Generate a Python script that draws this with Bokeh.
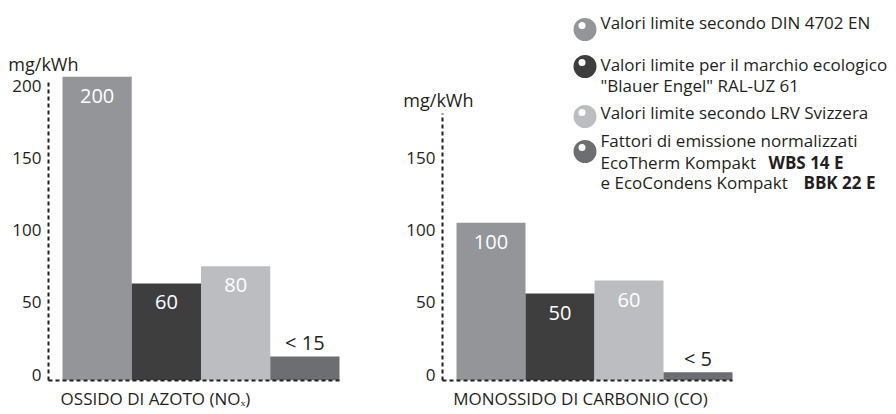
from bokeh.plotting import figure
from bokeh.layouts import row
from bokeh.models import FixedTicker, LinearAxis, Range1d
from bokeh.core.properties import value
from bokeh.embed import file_html
from bokeh.resources import INLINE

# ---------------- data ----------------
series_names = [
    "Valori limite secondo DIN 4702 EN",
    "Valori limite per il marchio ecologico \"Blauer Engel\" RAL-UZ 61",
    "Valori limite secondo LRV Svizzera",
    "Fattori di emissione normalizzati EcoTherm Kompakt WBS 14 E e EcoCondens Kompakt BBK 22 E",
]
series_colors = ["#939598", "#3e3e3f", "#bcbdc0", "#6d6e71"]

nox_heights = [206, 63, 75, 12.5]
nox_labels = ["200", "60", "80", "< 15"]
nox_ticks = [0, 50, 100, 150, 200]
nox_axis_top = 203.5
nox_title = "OSSIDO DI AZOTO (NOₓ)"

co_heights = [105, 56, 65, 1.5]
co_labels = ["100", "50", "60", "< 5"]
co_ticks = [0, 50, 100, 150]
co_axis_top = 180.6
co_title = "MONOSSIDO DI CARBONIO (CO)"

unit_label = "mg/kWh"

legend_lines = [
    ("Valori limite secondo DIN 4702 EN", ""),
    ("Valori limite per il marchio ecologico", ""),
    ("\"Blauer Engel\" RAL-UZ 61", ""),
    ("Valori limite secondo LRV Svizzera", ""),
    ("Fattori di emissione normalizzati", ""),
    ("EcoTherm Kompakt ", "WBS 14 E"),
    ("e EcoCondens Kompakt ", "BBK 22 E"),
]

# ---------------- style / layout (page pixels) ----------------
FONT = "Open Sans"
TXT = "#231f20"
H = 414
PXY = 1.445          # pixels per y unit
ZERO_PAGE = 374.0    # page y of value 0
FRAME_BOTTOM = 380.0
Y0 = (ZERO_PAGE - FRAME_BOTTOM) / PXY
Y1 = ZERO_PAGE / PXY
NOTICK = dict(major_tick_line_color=None, minor_tick_line_color=None,
              major_tick_out=0, major_tick_in=0, minor_tick_out=0, minor_tick_in=0)


def py(page_y):
    return (ZERO_PAGE - page_y) / PXY


def make_chart(page_x0, width, border_left, bar_left_page, bar_px, heights, labels,
               ticks, axis_top, title, title_center, unit_right, unit_mid):
    def px(page_x):
        return (page_x - bar_left_page) / bar_px

    frame_left = page_x0 + border_left
    x0 = px(frame_left)
    x1 = px(page_x0 + width)
    p = figure(width=width, height=H, x_range=Range1d(x0, x1), y_range=Range1d(Y0, Y1),
               output_backend="svg", toolbar_location=None, x_axis_type=None, y_axis_type=None,
               min_border_left=border_left, min_border_right=0, min_border_top=0,
               min_border_bottom=int(H - FRAME_BOTTOM), outline_line_color=None)
    # value axis (dashed line + numbers)
    yaxis = LinearAxis(ticker=FixedTicker(ticks=ticks), bounds=(Y0, axis_top),
                       axis_line_dash="4 3", axis_line_width=2, axis_line_color=TXT,
                       major_label_text_font=FONT, major_label_text_font_size="17px",
                       major_label_text_color=TXT, major_label_standoff=7, **NOTICK)
    p.add_layout(yaxis, "left")
    # unit caption, carried by a second (line-less) left axis
    ut = round(py(unit_mid), 1)
    inner_w = 37  # approx. width of the value axis panel
    uaxis = LinearAxis(ticker=FixedTicker(ticks=[ut]), major_label_overrides={ut: unit_label},
                       axis_line_color=None, major_label_text_font=FONT,
                       major_label_text_font_size="18px", major_label_text_color=TXT,
                       major_label_standoff=int((frame_left - inner_w) - unit_right), **NOTICK)
    p.add_layout(uaxis, "left")
    # baseline axis with the category caption as its only label
    n = len(heights)
    ct = round(px(title_center), 3)
    xaxis = LinearAxis(ticker=FixedTicker(ticks=[ct]), major_label_overrides={ct: title},
                       bounds=(x0, n), axis_line_dash="4 3", axis_line_width=2,
                       axis_line_color=TXT, major_label_text_font=FONT,
                       major_label_text_font_size="17px", major_label_text_color=TXT,
                       major_label_standoff=6, **NOTICK)
    p.add_layout(xaxis, "below")

    centers = [i + 0.5 for i in range(n)]
    p.vbar(x=centers, top=heights, bottom=Y0, width=1.0, fill_color=series_colors,
           line_color=None)
    ly, lc = [], []
    for h, t in zip(heights, labels):
        if t.startswith("<"):
            ly.append(h + 14 / PXY)
            lc.append(TXT)
        else:
            ly.append(h - 19 / PXY)
            lc.append("white")
    p.text(x=centers, y=ly, text=labels, text_color=lc, text_font=value(FONT),
           text_font_size="20px", text_align="center", text_baseline="middle")
    return p, px


left, _ = make_chart(0, 380, 48, 62, 69.25, nox_heights, nox_labels, nox_ticks, nox_axis_top,
                     nox_title, 155, 80, 63)
right, rx = make_chart(380, 516, 62, 456, 69.0, co_heights, co_labels, co_ticks, co_axis_top,
                       co_title, 580, 475, 99)

# ---------------- legend (in right chart) ----------------
circle_page = [(584.5, 29), (584.5, 66), (584.5, 116), (584.5, 151)]
cx = [rx(a) for a, b in circle_page]
cy = [py(b) for a, b in circle_page]
right.scatter(x=cx, y=cy, size=23, fill_color=series_colors, line_color=None)
right.scatter(x=[v - 3 / 69.0 for v in cx], y=[v + 4 / PXY for v in cy], size=7,
              fill_color="white", line_color=None)

mids = [22, 63.5, 84.5, 111.5, 140, 161.5, 182]
bold_x = {5: 768, 6: 803}
right.text(x=[rx(600)] * len(legend_lines), y=[py(m) for m in mids],
           text=[a for a, b in legend_lines], text_font=value(FONT), text_font_size="17px",
           text_color=TXT, text_align="left", text_baseline="middle")
bi = [i for i, (a, b) in enumerate(legend_lines) if b]
right.text(x=[rx(bold_x[i]) for i in bi], y=[py(mids[i]) for i in bi],
           text=[legend_lines[i][1] for i in bi], text_font=value(FONT), text_font_size="17px",
           text_font_style="bold", text_color=TXT, text_align="left", text_baseline="middle")

layout = row(left, right)
open("out.html", "w").write(file_html(layout, INLINE))
